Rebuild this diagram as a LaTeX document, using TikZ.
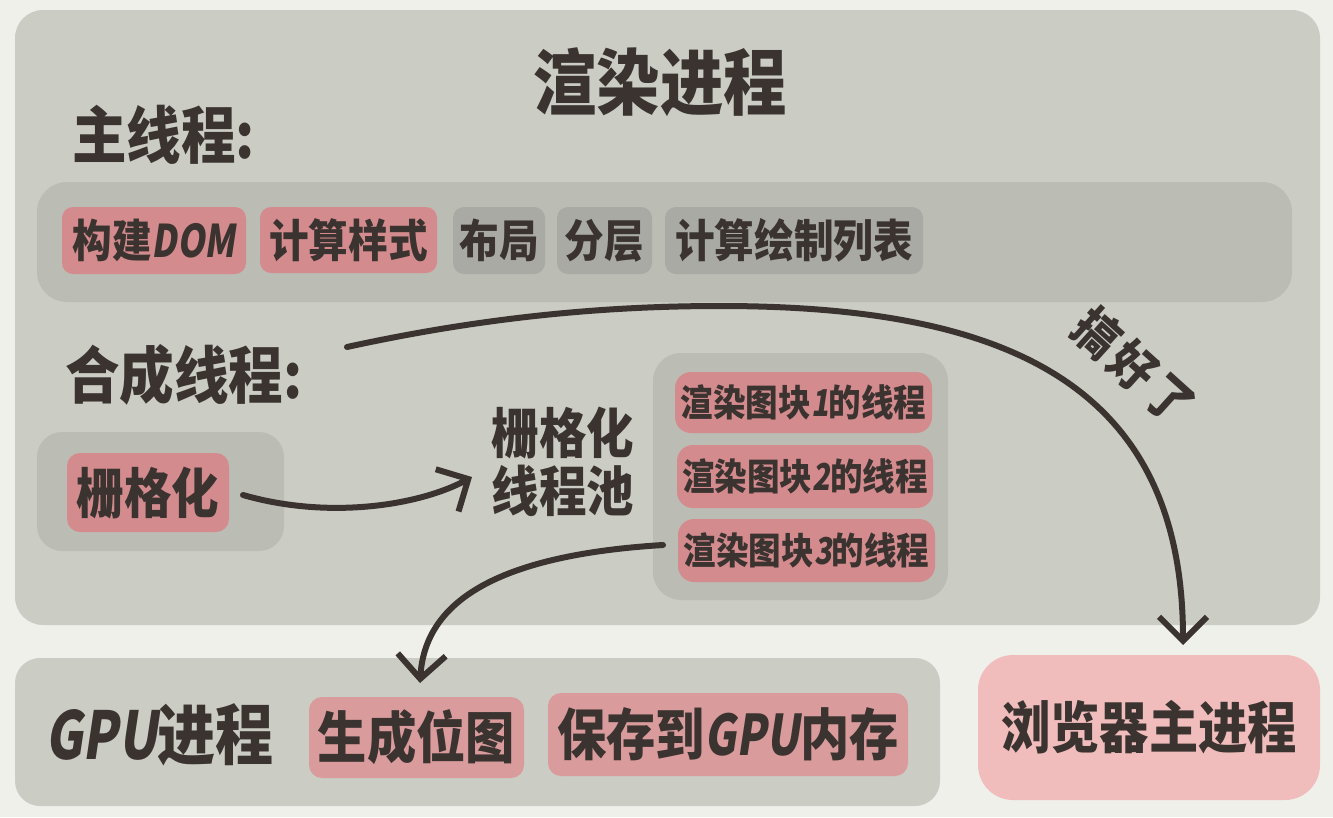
\documentclass[tikz,border=0pt]{standalone}
\usepackage{fontspec}
\setmainfont{Noto Sans CJK SC}[FakeStretch=0.88]
\newfontfamily\latsl{Noto Sans CJK SC}[FakeStretch=0.78,FakeSlant=0.15]
\usetikzlibrary{arrows.meta}
\definecolor{bgc}{HTML}{EFF0EA}
\definecolor{boxc}{HTML}{CBCCC4}
\definecolor{innerc}{HTML}{BBBCB4}
\definecolor{pinkc}{HTML}{D48B8E}
\definecolor{pinkg}{HTML}{D99B9C}
\definecolor{greyc}{HTML}{A9AAA3}
\definecolor{lpink}{HTML}{F0BDBC}
\definecolor{inkc}{HTML}{3A3330}
\tikzset{
  panel/.style={fill=boxc, draw=none, rounded corners=28pt, minimum width=#1},
  inner/.style={fill=innerc, draw=none, rounded corners=26pt},
  chip/.style={fill=pinkc, draw=none, rounded corners=11pt, inner sep=0pt, text=inkc},
  gchip/.style={fill=greyc, draw=none, rounded corners=11pt, inner sep=0pt, text=inkc},
  lbl/.style={text=inkc, inner sep=0pt},
  conn/.style={draw=inkc, line width=6pt, line cap=round, -{Straight Barb[length=24pt,width=48pt,line width=6pt]}},
}
\newcommand{\fs}[1]{\fontsize{#1}{#1}\bfseries\selectfont}
\begin{document}
\begin{tikzpicture}[x=1pt,y=-1pt]
\fill[bgc] (0,0) rectangle (1333,817);
\useasboundingbox (0,0) rectangle (1333,817);
% render process panel
\node[panel=1305pt, minimum height=615pt] (render) at (667.5,317.5) {};
\node[lbl, font=\fs{72}] (title) at (660,82) {渲染进程};
\node[lbl, font=\fs{62}, anchor=west] (mainlbl) at (72,135) {主线程:};
% main thread bar
\node[inner, minimum width=1255pt, minimum height=120pt, rounded corners=30pt] (mainbar) at (664.5,242) {};
\node[chip, minimum width=184pt, minimum height=67pt, font=\fs{45}] (dom) at (154,240.5) {构建{\latsl DOM}};
\node[chip, minimum width=177pt, minimum height=66pt, font=\fs{45}] (style) at (348.5,240) {计算样式};
\node[gchip, minimum width=92pt, minimum height=67pt, font=\fs{45}] (layout) at (499,240.5) {布局};
\node[gchip, minimum width=95pt, minimum height=67pt, font=\fs{45}] (layer) at (604.5,240.5) {分层};
\node[gchip, minimum width=258pt, minimum height=67pt, font=\fs{45}] (paint) at (794,240.5) {计算绘制列表};
% compositor thread
\node[lbl, font=\fs{62}, anchor=west] (complbl) at (65,375) {合成线程:};
\node[inner, minimum width=247pt, minimum height=119pt, rounded corners=25pt] (rasterbox) at (160.5,491.5) {};
\node[chip, minimum width=162pt, minimum height=79pt, rounded corners=13pt, font=\fs{54}] (raster) at (148,492.5) {栅格化};
\node[lbl, font=\fs{54}, align=center] (pool) at (563,462) {栅格化\\[4pt]线程池};
\node[inner, minimum width=295pt, minimum height=247pt, rounded corners=28pt] (poolbox) at (800.5,476.5) {};
\node[chip, minimum width=257pt, minimum height=61pt, rounded corners=16pt, font=\fs{37}] (t1) at (803.5,402.5) {渲染图块{\latsl 1}的线程};
\node[chip, minimum width=256pt, minimum height=63pt, rounded corners=16pt, font=\fs{37}] (t2) at (805,476.5) {渲染图块{\latsl 2}的线程};
\node[chip, minimum width=257pt, minimum height=63pt, rounded corners=16pt, font=\fs{37}] (t3) at (806.5,550.5) {渲染图块{\latsl 3}的线程};
% GPU process
\node[panel=925pt, minimum height=148pt, rounded corners=25pt] (gpu) at (477.5,732) {};
\node[lbl, font=\fs{66}, anchor=west] (gpulbl) at (45,735) {{\latsl GPU}进程};
\node[chip, fill=pinkg, minimum width=215pt, minimum height=81pt, rounded corners=13pt, font=\fs{56}] (bitmap) at (416.5,737.5) {生成位图};
\node[chip, fill=pinkg, minimum width=360pt, minimum height=83pt, rounded corners=13pt, font=\fs{56}] (store) at (728,734.5) {保存到{\latsl GPU}内存};
% browser main process
\node[fill=lpink, draw=none, rounded corners=35pt, minimum width=342pt, minimum height=145pt, text=inkc, font=\fs{56}] (browser) at (1149,727.5) {浏览器主进程};
% connectors
\coordinate (a1s) at (243,495);
\coordinate (a1e) at (472,477);
\draw[conn] (a1s) .. controls (330,520) and (420,505) .. (a1e);
\coordinate (a2s) at (663,545);
\coordinate (a2e) at (420,683);
\draw[conn] (a2s) .. controls (500,555) and (425,600) .. (a2e);
\coordinate (a3s) at (347,347);
\coordinate (a3m) at (720,306);
\coordinate (a3e) at (1183,645);
\draw[conn] (a3s) .. controls (480,318) and (600,306) .. (a3m) .. controls (1000,306) and (1183,380) .. (a3e);
\node[lbl, font=\fs{50}, rotate=-42] (done) at (1134,366) {搞\hspace{5pt}好\hspace{5pt}了};
\end{tikzpicture}
\end{document}
